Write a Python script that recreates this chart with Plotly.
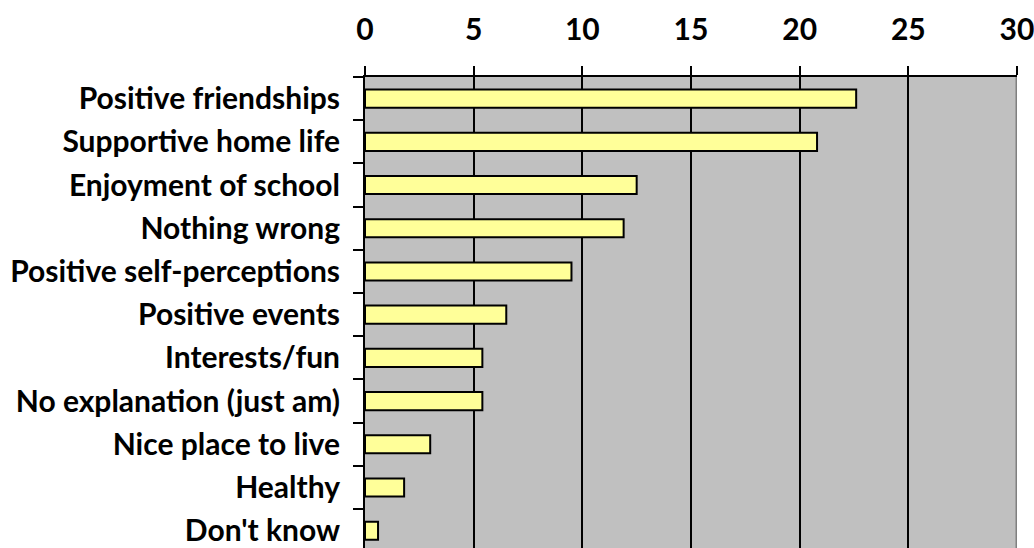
import plotly.graph_objects as go

categories = ["Positive friendships", "Supportive home life", "Enjoyment of school",
              "Nothing wrong", "Positive self-perceptions", "Positive events",
              "Interests/fun", "No explanation (just am)", "Nice place to live",
              "Healthy", "Don't know"]
values = [22.6, 20.8, 12.5, 11.9, 9.5, 6.5, 5.4, 5.4, 3.0, 1.8, 0.6]
x_ticks = [0, 5, 10, 15, 20, 25, 30]

FONT = "Lato"
FS = 30

fig = go.Figure(go.Bar(
    x=values, y=categories, orientation="h",
    marker=dict(color="#FFFF99", line=dict(color="black", width=2)),
    width=0.42,
))

fig.update_layout(
    width=1034, height=548,
    margin=dict(l=365, r=17, t=77, b=0),
    paper_bgcolor="white", plot_bgcolor="#C0C0C0",
    showlegend=False,
    font=dict(family=FONT, size=FS, color="black"),
    xaxis=dict(
        side="top", range=[0, 30], tickvals=x_ticks,
        showgrid=True, gridcolor="black", gridwidth=2,
        showline=True, linecolor="black", linewidth=2,
        ticks="outside", ticklen=9, tickwidth=2, tickcolor="black",
        tickfont=dict(family=FONT, size=FS, color="black", weight="bold"),
        ticklabelstandoff=14, zeroline=False, ticklabeloverflow="allow",
    ),
    yaxis=dict(
        type="category", categoryorder="array", categoryarray=categories,
        range=[10.4, -0.5],
        showline=True, linecolor="black", linewidth=2,
        ticks="outside", ticklen=10, tickwidth=2, tickcolor="black",
        tickson="boundaries", showgrid=False,
        tickfont=dict(family=FONT, size=FS, color="black", weight="bold"),
        ticklabelstandoff=17, ticklabeloverflow="allow",
    ),
    shapes=[dict(type="line", xref="x", yref="paper", x0=30, x1=30, y0=0, y1=1,
                 line=dict(color="#808080", width=3))],
)

fig.write_html("out.html")
